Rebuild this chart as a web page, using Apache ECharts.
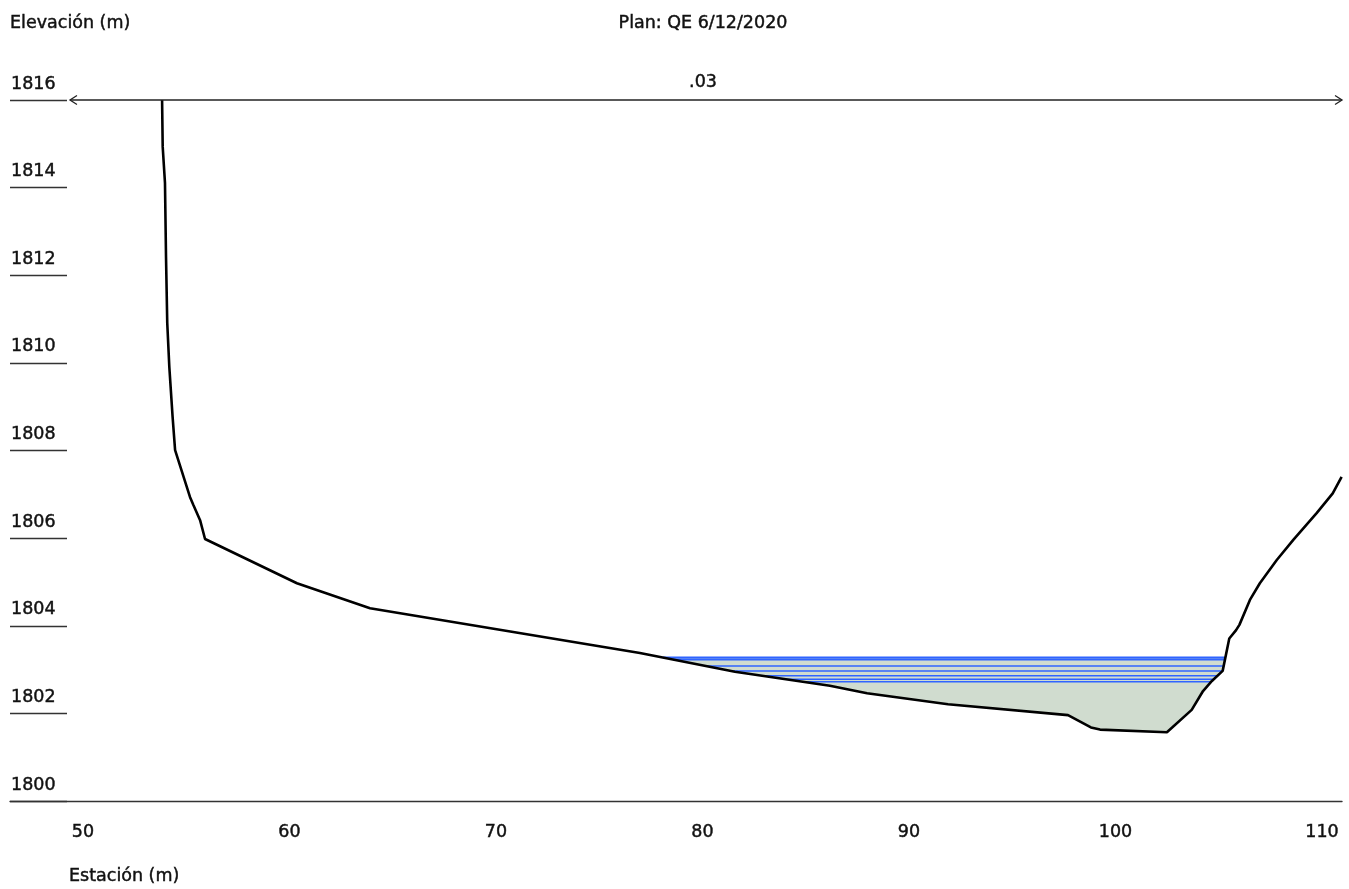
<!DOCTYPE html>
<html><head><meta charset="utf-8">
<script src="https://cdn.jsdelivr.net/npm/echarts@6/dist/echarts.min.js"></script>
<style>html,body{margin:0;padding:0;background:#fff}#c{width:1349px;height:889px}</style>
</head><body><div id="c"></div>
<script>
// Ground profile (station m, elevation m)
const groundStation = [53.83, 53.86, 53.97, 54.02, 54.08, 54.18, 54.34, 54.46, 55.18, 55.34, 55.67, 55.91, 60.36, 63.90, 76.97, 81.57, 86.17, 87.97, 91.89, 97.70, 98.81, 99.25, 102.49, 103.69, 104.24, 104.67, 105.19, 105.51, 105.84, 106.00, 106.51, 106.99, 107.81, 108.61, 109.74, 110.52, 110.95];
const groundElevation = [1816.0, 1814.93, 1814.11, 1812.42, 1810.91, 1809.91, 1808.76, 1808.01, 1806.94, 1806.76, 1806.41, 1805.98, 1804.97, 1804.40, 1803.38, 1802.95, 1802.63, 1802.46, 1802.21, 1801.96, 1801.68, 1801.63, 1801.57, 1802.08, 1802.51, 1802.74, 1802.97, 1803.71, 1803.90, 1804.02, 1804.59, 1804.97, 1805.50, 1805.96, 1806.57, 1807.02, 1807.40];
// Water surface elevations (profiles)
const waterLevels = [1803.275, 1803.23, 1803.08, 1802.97, 1802.86, 1802.78, 1802.72];
// Tick labels
const xTickLabels = [50, 60, 70, 80, 90, 100, 110];
const yTickLabels = [1800, 1802, 1804, 1806, 1808, 1810, 1812, 1814, 1816];
// Manning's n band
const manningValue = '.03';
const manningRange = [49.37, 110.97];
const manningElevation = 1816;

const FONT = '"DejaVu Sans", sans-serif';
const FS = 17.5;
const TXT = '#111';
const TB = 0.45; // slight stroke for medium weight
const ground = groundStation.map((s, i) => [s, groundElevation[i]]);

function crossings(ws) {
  let iL = -1, iR = -1;
  for (let i = 0; i < ground.length - 1; i++) {
    if (ground[i][1] >= ws && ground[i + 1][1] < ws) { iL = i; break; }
  }
  for (let i = ground.length - 2; i >= 0; i--) {
    if (ground[i][1] < ws && ground[i + 1][1] >= ws) { iR = i; break; }
  }
  const interp = (i) => {
    const a = ground[i], b = ground[i + 1];
    const t = (ws - a[1]) / (b[1] - a[1]);
    return a[0] + t * (b[0] - a[0]);
  };
  return { iL, iR, xL: interp(iL), xR: interp(iR) };
}

function waterPolygon(ws) {
  const c = crossings(ws);
  const pts = [[c.xL, ws]];
  for (let i = c.iL + 1; i <= c.iR; i++) pts.push(ground[i]);
  pts.push([c.xR, ws]);
  return pts;
}

const series = [];
series.push({
  type: 'custom', coordinateSystem: 'cartesian2d', clip: false, silent: true, z: 1,
  data: [[80, 1803]],
  renderItem: function (params, api) {
    const pts = waterPolygon(waterLevels[0]).map(p => api.coord(p));
    return { type: 'polygon', shape: { points: pts }, style: { fill: '#d0dccf' } };
  }
});
waterLevels.forEach((ws, k) => {
  const c = crossings(ws);
  series.push({
    type: 'line', silent: true, z: 2, showSymbol: false, symbol: 'none',
    data: [[c.xL, ws], [c.xR, ws]],
    lineStyle: { color: '#2f64ff', width: k < 2 ? 2 : 1.5 }
  });
});
series.push({
  type: 'line', silent: true, z: 3, showSymbol: false, symbol: 'none',
  data: ground, lineStyle: { color: '#000', width: 2.6 }
});
series.push({
  type: 'custom', coordinateSystem: 'cartesian2d', clip: false, silent: true, z: 4,
  data: [[80, 1816]],
  renderItem: function (params, api) {
    const a = api.coord([manningRange[0], manningElevation]);
    const b = api.coord([manningRange[1], manningElevation]);
    const st = { stroke: '#222', lineWidth: 1.3, fill: null };
    return {
      type: 'group', children: [
        { type: 'line', shape: { x1: a[0], y1: a[1], x2: b[0], y2: b[1] }, style: st },
        { type: 'polyline', shape: { points: [[a[0] + 7, a[1] - 4.5], [a[0], a[1]], [a[0] + 7, a[1] + 4.5]] }, style: st },
        { type: 'polyline', shape: { points: [[b[0] - 7, b[1] - 4.5], [b[0], b[1]], [b[0] - 7, b[1] + 4.5]] }, style: st },
        { type: 'text', x: (a[0] + b[0]) / 2 - 3, y: a[1] - 18, style: { text: manningValue, font: FS + 'px ' + FONT, fill: TXT, stroke: TXT, lineWidth: TB, align: 'center', verticalAlign: 'middle' } }
      ]
    };
  }
});

const labelStyle = { color: TXT, fontSize: FS, fontFamily: FONT, textBorderColor: TXT, textBorderWidth: TB };

const chart = echarts.init(document.getElementById('c'), null, { renderer: 'canvas' });
chart.setOption({
  animation: false,
  backgroundColor: '#fff',
  grid: { left: 10, right: 7, top: 100, bottom: 88, containLabel: false },
  xAxis: {
    type: 'value', min: 46.465, max: 110.969, minInterval: 10, maxInterval: 10,
    axisLine: { show: true, lineStyle: { color: '#333', width: 1.4 } },
    axisTick: { show: false }, splitLine: { show: false },
    axisLabel: Object.assign({
      margin: 22,
      formatter: v => xTickLabels.includes(v) ? String(v) : ''
    }, labelStyle)
  },
  yAxis: {
    type: 'value', min: 1800, max: 1816, interval: 2,
    axisLine: { show: false }, splitLine: { show: false },
    axisTick: { show: true, inside: true, length: 57, lineStyle: { color: '#333', width: 1.4 } },
    axisLabel: Object.assign({
      inside: true, margin: 1, align: 'left', verticalAlign: 'bottom', padding: [0, 0, 7, 0],
      formatter: v => yTickLabels.includes(v) ? String(v) : ''
    }, labelStyle)
  },
  graphic: [
    { type: 'text', x: 10, y: 23, style: { text: 'Elevación (m)', font: FS + 'px ' + FONT, fill: TXT, stroke: TXT, lineWidth: TB, align: 'left', verticalAlign: 'middle' } },
    { type: 'text', x: 703, y: 23, style: { text: 'Plan: QE 6/12/2020', font: FS + 'px ' + FONT, fill: TXT, stroke: TXT, lineWidth: TB, align: 'center', verticalAlign: 'middle' } },
    { type: 'text', x: 69, y: 876, style: { text: 'Estación (m)', font: FS + 'px ' + FONT, fill: TXT, stroke: TXT, lineWidth: TB, align: 'left', verticalAlign: 'middle' } }
  ],
  series: series
});
</script></body></html>
